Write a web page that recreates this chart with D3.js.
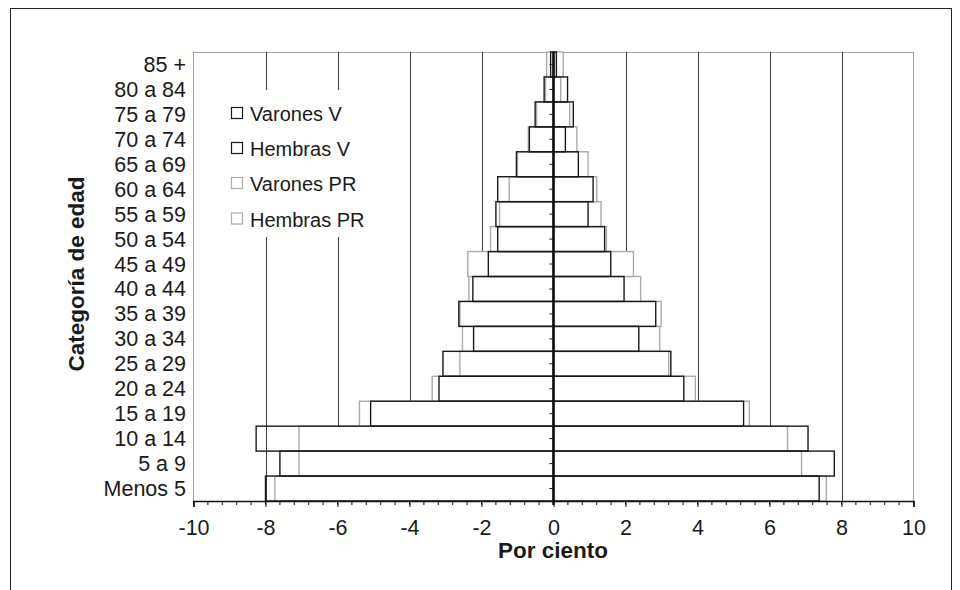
<!DOCTYPE html>
<html>
<head>
<meta charset="utf-8">
<script src="https://cdn.jsdelivr.net/npm/d3@7"></script>
<style>
  html, body { margin: 0; padding: 0; background: #fff; }
  svg { display: block; font-family: "Liberation Sans", Arial, sans-serif; }
</style>
</head>
<body>
<svg id="chart" width="960" height="590"></svg>
<script>
// ---- Data (percent; varones negative) ----
const categories = ["Menos 5","5 a 9","10 a 14","15 a 19","20 a 24","25 a 29","30 a 34","35 a 39","40 a 44","45 a 49","50 a 54","55 a 59","60 a 64","65 a 69","70 a 74","75 a 79","80 a 84","85 +"];
const varonesV  = [-8.0, -7.6, -8.26, -5.08, -3.18, -3.07, -2.22, -2.63, -2.24, -1.81, -1.55, -1.6, -1.55, -1.03, -0.67, -0.51, -0.26, -0.08];
const hembrasV  = [7.38, 7.8, 7.07, 5.28, 3.62, 3.26, 2.37, 2.84, 1.96, 1.59, 1.42, 0.96, 1.1, 0.69, 0.33, 0.55, 0.39, 0.08];
const varonesPR = [-7.74, -7.07, -7.07, -5.39, -3.37, -2.6, -2.53, -2.6, -2.35, -2.38, -1.75, -1.5, -1.23, -1.0, -0.7, -0.47, -0.22, -0.19];
const hembrasPR = [7.58, 6.89, 6.5, 5.44, 3.94, 3.2, 2.95, 2.99, 2.42, 2.22, 1.47, 1.32, 1.2, 0.96, 0.65, 0.45, 0.2, 0.27];
const xTicks = [-10, -8, -6, -4, -2, 0, 2, 4, 6, 8, 10];
const gridValues = [-8, -6, -4, -2, 2, 4, 6, 8];
const legendLabels = ["Varones V", "Hembras V", "Varones PR", "Hembras PR"];

const BLACK = "#1a1a1a", GRAY = "#ababab";
const legendColors = [BLACK, BLACK, GRAY, GRAY];

const svg = d3.select("#chart");
const plot = {left: 193.5, right: 913.5, top: 52, bottom: 501};

const x = d3.scaleLinear().domain([-10, 10]).range([plot.left, plot.right]);
const y = d3.scaleBand().domain(categories).range([plot.bottom, plot.top]).padding(0);

// outer frame
svg.append("rect").attr("x", 10.5).attr("y", 8.5).attr("width", 941).attr("height", 600)
  .attr("fill", "none").attr("stroke", "#222").attr("stroke-width", 1);

// plot area border
svg.append("rect").attr("x", plot.left).attr("y", plot.top + 0.5)
  .attr("width", plot.right - plot.left).attr("height", plot.bottom - plot.top)
  .attr("fill", "#fff").attr("stroke", "#a0a0a0").attr("stroke-width", 1);

// gridlines
svg.append("g").selectAll("line").data(gridValues).join("line")
  .attr("x1", d => Math.round(x(d)) + 0.5).attr("x2", d => Math.round(x(d)) + 0.5)
  .attr("y1", plot.top).attr("y2", plot.bottom)
  .attr("stroke", "#3a3a3a").attr("stroke-width", 1);

// legend (white background hides gridlines)
const lg = svg.append("g");
lg.append("rect").attr("x", 222).attr("y", 90).attr("width", 152).attr("height", 147).attr("fill", "#fff");
const lgY = [114, 149, 184, 219.5];
legendLabels.forEach((t, i) => {
  lg.append("rect").attr("x", 231.5).attr("y", lgY[i] - 6.5).attr("width", 11).attr("height", 11)
    .attr("fill", "#fff").attr("stroke", legendColors[i]).attr("stroke-width", 1.2);
  lg.append("text").attr("x", 250).attr("y", lgY[i] + 7).attr("font-size", 20).attr("fill", "#1a1a1a").text(t);
});

// bars: PR (gray, white fill) first, then V (black, no fill) on top
function bars(values, color, fill) {
  svg.append("g").selectAll("rect").data(values).join("rect")
    .attr("x", d => x(Math.min(0, d)))
    .attr("width", d => Math.abs(x(d) - x(0)))
    .attr("y", (d, i) => y(categories[i]))
    .attr("height", y.bandwidth())
    .attr("fill", fill).attr("stroke", color).attr("stroke-width", 1.4);
}
bars(varonesPR, GRAY, "#fff");
bars(hembrasPR, GRAY, "#fff");
bars(varonesV, BLACK, "none");
bars(hembrasV, BLACK, "none");

// zero axis with category ticks
svg.append("line").attr("x1", x(0)).attr("x2", x(0)).attr("y1", plot.top).attr("y2", plot.bottom + 4)
  .attr("stroke", "#111").attr("stroke-width", 2.5);
svg.append("g").selectAll("line").data(categories).join("line")
  .attr("x1", x(0) - 4).attr("x2", x(0))
  .attr("y1", d => y(d) + y.bandwidth() / 2).attr("y2", d => y(d) + y.bandwidth() / 2)
  .attr("stroke", "#111").attr("stroke-width", 1);

// category labels
svg.append("g").selectAll("text").data(categories).join("text")
  .attr("x", 186).attr("y", d => y(d) + y.bandwidth() / 2 + 7.5)
  .attr("text-anchor", "end").attr("font-size", 21.5).attr("fill", "#1a1a1a").text(d => d);

// x axis
const minorTicks = d3.range(-10, 10.001, 0.4).map(v => +v.toFixed(2));
const xAxis = d3.axisBottom(x).tickValues(xTicks).tickSize(6).tickFormat(d3.format("d"));
const axG = svg.append("g").attr("transform", `translate(0,${plot.bottom})`).call(xAxis);
axG.select(".domain").attr("stroke", "#111").attr("stroke-width", 1.5);
axG.selectAll(".tick line").attr("stroke", "#111");
axG.selectAll(".tick text").attr("font-size", 21.5).attr("fill", "#1a1a1a").attr("dy", null).attr("y", 34)
  .style("font-family", "'Liberation Sans', Arial, sans-serif")
  .text(d => d < 0 ? "-" + Math.abs(d) : d);
svg.append("g").selectAll("line").data(minorTicks).join("line")
  .attr("x1", d => x(d)).attr("x2", d => x(d))
  .attr("y1", plot.bottom).attr("y2", plot.bottom + 4)
  .attr("stroke", "#111").attr("stroke-width", 1);

// axis titles
svg.append("text").attr("x", 553).attr("y", 558).attr("text-anchor", "middle")
  .attr("font-size", 22.5).attr("font-weight", "bold").attr("fill", "#1a1a1a").text("Por ciento");
svg.append("text").attr("transform", "translate(84,274) rotate(-90)").attr("text-anchor", "middle")
  .attr("font-size", 22.5).attr("font-weight", "bold").attr("fill", "#1a1a1a").text("Categoría de edad");
</script>
</body>
</html>
